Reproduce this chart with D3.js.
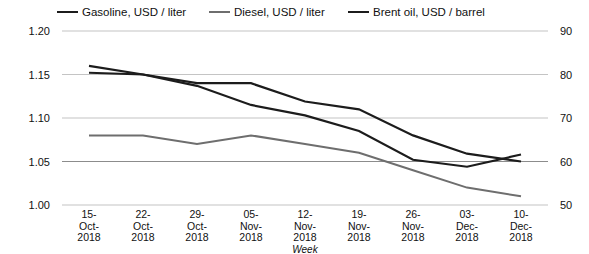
<!DOCTYPE html>
<html>
<head>
<meta charset="utf-8">
<script src="https://cdn.jsdelivr.net/npm/d3@7"></script>
<style>
  body { margin: 0; background: #fff; }
  text { font-family: "Liberation Sans", Arial, sans-serif; fill: #111; }
</style>
</head>
<body>
<svg id="chart" width="589" height="254"></svg>
<script>
// weeks on the x axis
var weeks = ["15-Oct-2018", "22-Oct-2018", "29-Oct-2018", "05-Nov-2018", "12-Nov-2018",
  "19-Nov-2018", "26-Nov-2018", "03-Dec-2018", "10-Dec-2018"];

// series values
var gasoline = [1.152, 1.150, 1.140, 1.140, 1.119, 1.110, 1.080, 1.059, 1.050];
var diesel = [1.08, 1.08, 1.07, 1.08, 1.07, 1.06, 1.04, 1.02, 1.01];
var brent = [82.0, 80.0, 77.4, 73.0, 70.6, 67.0, 60.4, 58.8, 61.6];

var leftTicks = [1.00, 1.05, 1.10, 1.15, 1.20];
var rightTicks = [50, 60, 70, 80, 90];

var svg = d3.select("#chart");
var margin = { left: 62, right: 41, top: 31, bottom: 49 };
var width = 589 - margin.left - margin.right,
  height = 254 - margin.top - margin.bottom;

var g = svg.append("g").attr("transform", "translate(" + margin.left + "," + margin.top + ")");

var x = d3.scalePoint().domain(weeks).range([0, width]).padding(0.5);
var yL = d3.scaleLinear().domain([1.0, 1.2]).range([height, 0]);
var yR = d3.scaleLinear().domain([50, 90]).range([height, 0]);

// gridlines
g.selectAll(".grid").data(leftTicks).enter().append("line")
  .attr("x1", 0).attr("x2", width)
  .attr("y1", function (d) { return yL(d); })
  .attr("y2", function (d) { return yL(d); })
  .attr("stroke", function (d) { return d === 1.05 ? "#8c8c8c" : "#c4c4c4"; })
  .attr("stroke-width", 1.2);

// left axis labels
g.selectAll(".lt").data(leftTicks).enter().append("text")
  .attr("x", -12).attr("y", function (d) { return yL(d) + 4; })
  .attr("text-anchor", "end").style("font-size", "11px")
  .text(function (d) { return d3.format(".2f")(d); });

// right axis labels
g.selectAll(".rt").data(rightTicks).enter().append("text")
  .attr("x", width + 12).attr("y", function (d) { return yR(d) + 4; })
  .attr("text-anchor", "start").style("font-size", "11px")
  .text(function (d) { return d; });

// x labels, three lines each
var xl = g.selectAll(".xl").data(weeks).enter().append("text")
  .attr("text-anchor", "middle").style("font-size", "10.5px")
  .attr("transform", function (d) { return "translate(" + x(d) + "," + (height + 13) + ")"; });
xl.each(function (d) {
  var parts = d.split("-");
  var t = d3.select(this);
  t.append("tspan").attr("x", 0).attr("dy", 0).text(parts[0] + "-");
  t.append("tspan").attr("x", 0).attr("dy", 11.5).text(parts[1] + "-");
  t.append("tspan").attr("x", 0).attr("dy", 11.5).text(parts[2]);
});

g.append("text").attr("x", width / 2).attr("y", height + 48)
  .attr("text-anchor", "middle").style("font-size", "10px").style("font-style", "italic")
  .text("Week");

// lines
var lineL = d3.line().x(function (d, i) { return x(weeks[i]); }).y(function (d) { return yL(d); });
var lineR = d3.line().x(function (d, i) { return x(weeks[i]); }).y(function (d) { return yR(d); });

g.append("path").datum(diesel).attr("d", lineL)
  .attr("fill", "none").attr("stroke", "#6e6e6e").attr("stroke-width", 2);
g.append("path").datum(gasoline).attr("d", lineL)
  .attr("fill", "none").attr("stroke", "#1c1c1c").attr("stroke-width", 2.2);
g.append("path").datum(brent).attr("d", lineR)
  .attr("fill", "none").attr("stroke", "#1c1c1c").attr("stroke-width", 2.2);

// legend
var legend = [
  { name: "Gasoline, USD / liter", color: "#1c1c1c", x: 57 },
  { name: "Diesel, USD / liter", color: "#6e6e6e", x: 209 },
  { name: "Brent oil, USD / barrel", color: "#1c1c1c", x: 348 }
];
var lg = svg.selectAll(".lg").data(legend).enter().append("g")
  .attr("transform", function (d) { return "translate(" + d.x + ",12)"; });
lg.append("line").attr("x1", 0).attr("x2", 21).attr("y1", 0).attr("y2", 0)
  .attr("stroke", function (d) { return d.color; }).attr("stroke-width", 2);
lg.append("text").attr("x", 25).attr("y", 4).style("font-size", "11.5px")
  .text(function (d) { return d.name; });
</script>
</body>
</html>
